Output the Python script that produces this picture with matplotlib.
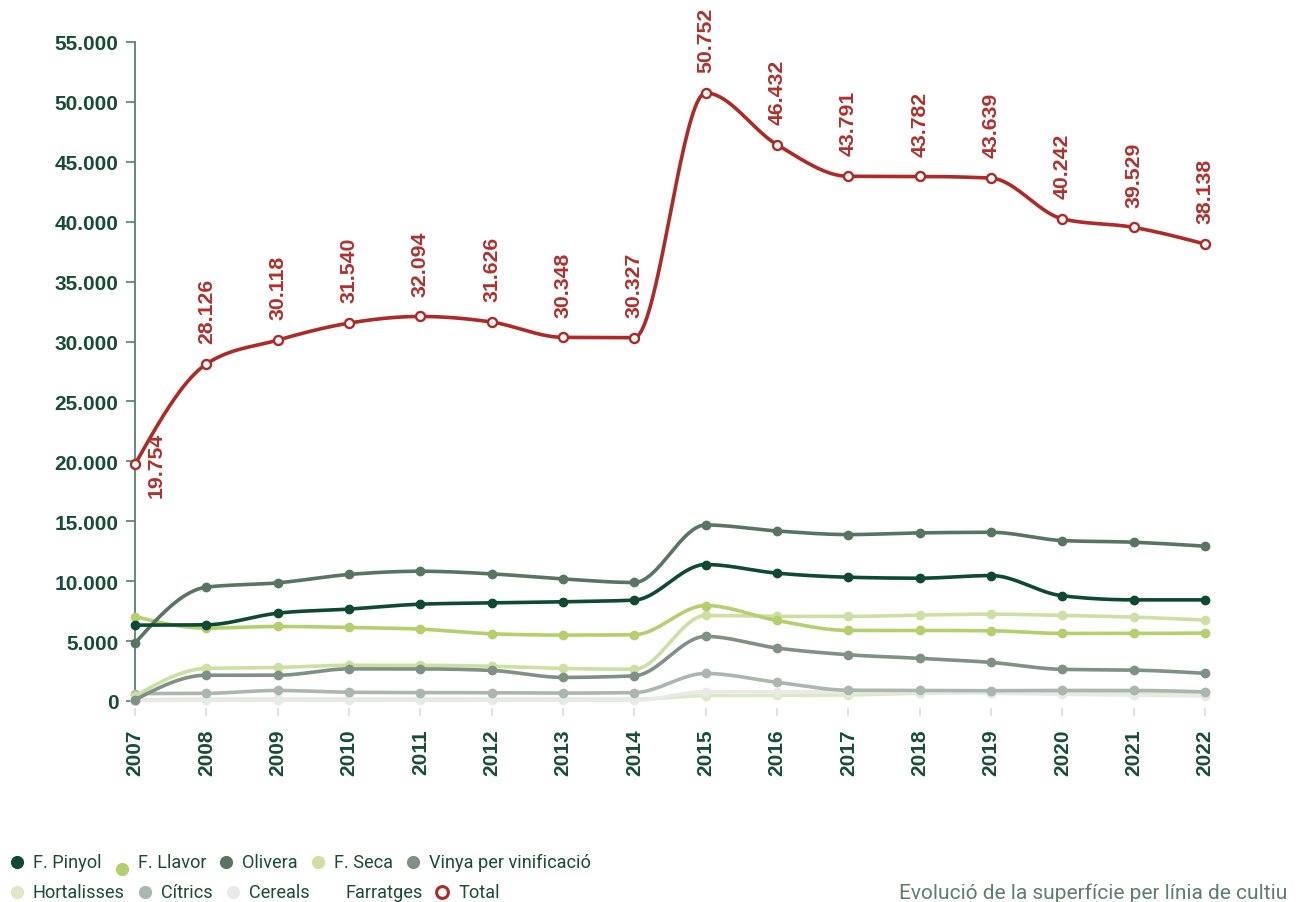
import numpy as np
import matplotlib
matplotlib.use("Agg")
import matplotlib.pyplot as plt
from matplotlib.lines import Line2D

# ---------------- data ----------------
years = list(range(2007, 2023))

f_pinyol = [6330, 6360, 7330, 7670, 8080, 8190, 8280, 8420, 11390, 10670, 10330, 10250, 10470, 8780, 8440, 8440]
f_llavor = [7050, 6080, 6220, 6140, 6000, 5610, 5500, 5530, 7970, 6720, 5890, 5890, 5860, 5640, 5640, 5670]
olivera = [4830, 9500, 9860, 10560, 10830, 10610, 10190, 9890, 14690, 14190, 13890, 14030, 14080, 13390, 13250, 12920]
f_seca = [400, 2720, 2800, 2980, 2980, 2900, 2720, 2650, 7140, 7060, 7060, 7170, 7250, 7140, 7000, 6750]
vinya = [100, 2150, 2150, 2680, 2680, 2550, 1970, 2100, 5390, 4420, 3860, 3560, 3220, 2640, 2580, 2310]
hortalisses = [80, 150, 150, 150, 150, 150, 150, 150, 450, 470, 500, 650, 700, 680, 700, 720]
citrics = [620, 640, 880, 730, 700, 690, 660, 700, 2300, 1560, 900, 880, 860, 880, 880, 760]
cereals = [30, 60, 60, 60, 60, 60, 60, 60, 780, 760, 780, 740, 650, 560, 480, 420]
farratges = [0, 0, 0, 0, 0, 0, 0, 0, 0, 0, 0, 0, 0, 0, 0, 0]
total = [19754, 28126, 30118, 31540, 32094, 31626, 30348, 30327, 50752, 46432, 43791, 43782, 43639, 40242, 39529, 38138]

series_names = ["F. Pinyol", "F. Llavor", "Olivera", "F. Seca", "Vinya per vinificació",
                "Hortalisses", "Cítrics", "Cereals", "Farratges", "Total"]
series_values = [f_pinyol, f_llavor, olivera, f_seca, vinya,
                 hortalisses, citrics, cereals, farratges, total]
series_colors = ["#0e4a33", "#b4cf6c", "#587563", "#cde0a1", "#7f9184",
                 "#dfe8c6", "#abb6ae", "#e8eae8", "#ffffff", "#ad2a27"]

y_ticks = list(range(0, 55001, 5000))
y_ticklabels = ["0" if v == 0 else f"{v:,}".replace(",", ".") for v in y_ticks]
caption = "Evolució de la superfície per línia de cultiu"


def fmt(v):
    return f"{v:,}".replace(",", ".")


# ------------- monotone cubic (d3 curveMonotoneX) -------------
def monotone(x, y, n=40):
    x = np.asarray(x, float)
    y = np.asarray(y, float)
    h = np.diff(x)
    s = np.diff(y) / h
    m = np.zeros_like(y)
    for i in range(1, len(x) - 1):
        h0, h1, s0, s1 = h[i - 1], h[i], s[i - 1], s[i]
        p = (s0 * h1 + s1 * h0) / (h0 + h1)
        m[i] = (np.sign(s0) + np.sign(s1)) * min(abs(s0), abs(s1), 0.5 * abs(p))
    m[0] = (3 * s[0] - m[1]) / 2
    m[-1] = (3 * s[-1] - m[-2]) / 2
    xs, ys = [], []
    for i in range(len(x) - 1):
        t = np.linspace(0, 1, n, endpoint=(i == len(x) - 2))
        hh = h[i]
        h00 = 2 * t**3 - 3 * t**2 + 1
        h10 = t**3 - 2 * t**2 + t
        h01 = -2 * t**3 + 3 * t**2
        h11 = t**3 - t**2
        xs.append(x[i] + t * hh)
        ys.append(h00 * y[i] + h10 * hh * m[i] + h01 * y[i + 1] + h11 * hh * m[i + 1])
    return np.concatenate(xs), np.concatenate(ys)


# ---------------- figure ----------------
W, H = 1302, 903
fig = plt.figure(figsize=(W / 100, H / 100), dpi=100)
ax = fig.add_axes([135 / W, (H - 702) / H, (1205 - 135) / W, (702 - 43) / H])

tick_color = "#174d38"
bold_font = "Liberation Sans"

zorders = [5, 4, 4.5, 3.5, 3.8, 2.5, 3, 2.8, 1, 10]
for name, vals, col, z in zip(series_names, series_values, series_colors, zorders):
    if name == "Total":
        continue
    xs, ys = monotone(years, vals)
    ax.plot(xs, ys, color=col, lw=2.6, zorder=z, clip_on=False, solid_capstyle="round")
    ax.plot(years, vals, "o", color=col, ms=6.0, zorder=z, clip_on=False, mec=col)

xs, ys = monotone(years, total)
ax.plot(xs, ys, color=series_colors[-1], lw=2.6, zorder=10, clip_on=False)
ax.plot(years, total, "o", mfc="white", mec=series_colors[-1], mew=1.7, ms=6.5,
        zorder=11, clip_on=False)

for i, (yr, v) in enumerate(zip(years, total)):
    if i == 0:
        ax.annotate(fmt(v), (yr, v), xytext=(15, 0), textcoords="offset points",
                    rotation=90, ha="center", va="center", color="#b0302d",
                    fontsize=15.3, fontweight="bold", family=bold_font, zorder=12)
    else:
        ax.annotate(fmt(v), (yr, v), xytext=(0, 15), textcoords="offset points",
                    rotation=90, ha="center", va="bottom", color="#b0302d",
                    fontsize=15.3, fontweight="bold", family=bold_font, zorder=12)

ax.set_xlim(2007, 2022)
ax.set_ylim(0, 55000)
ax.set_yticks(y_ticks)
ax.set_yticklabels(y_ticklabels)
ax.set_xticks(years)
ax.set_xticklabels([str(y) for y in years])

for sp in ["top", "right", "bottom"]:
    ax.spines[sp].set_visible(False)
ax.spines["left"].set_color("#55806e")
ax.spines["left"].set_linewidth(1.3)
ax.spines["bottom"].set_position(("outward", 5))

ax.tick_params(axis="y", length=6.5, width=1.2, color="#55806e", pad=5.5,
               labelsize=15, labelcolor=tick_color)
ax.tick_params(axis="x", length=6, width=1.2, color="#dcdcdc", pad=9,
               labelsize=15, labelcolor=tick_color, labelrotation=90)
for lab in ax.get_yticklabels() + ax.get_xticklabels():
    lab.set_fontweight("bold")
    lab.set_family(bold_font)
for lab in ax.get_xticklabels():
    lab.set_rotation(90)
    lab.set_va("top")
    lab.set_ha("center")

# ---------------- legend (manual flow layout) ----------------
renderer = fig.canvas.get_renderer()
leg_font = "Roboto"
leg_color = "#1d4a36"
rows = [series_names[:5], series_names[5:]]
row_y = [863, 893]
for r, names in enumerate(rows):
    x = 17
    for name in names:
        idx = series_names.index(name)
        col = series_colors[idx]
        my = row_y[r] + (7 if name == "F. Llavor" else 0)
        if name == "Total":
            fig.add_artist(Line2D([x / W], [1 - my / H], marker="o", ms=8.5, mfc="white",
                                  mec=col, mew=2.2, transform=fig.transFigure))
        elif name != "Farratges":
            fig.add_artist(Line2D([x / W], [1 - my / H], marker="o", ms=9.5, mfc=col,
                                  mec=col, mew=0, transform=fig.transFigure))
        t = fig.text((x + 16) / W, 1 - row_y[r] / H, name, fontsize=13.1, family=leg_font,
                     color=leg_color, va="center", ha="left")
        bb = t.get_window_extent(renderer)
        x = bb.x1 + 20

fig.text(1287 / W, 1 - 893 / H, caption, fontsize=15, family=leg_font,
         color="#5e7d6c", ha="right", va="center")

fig.savefig("out.png", dpi=100)
